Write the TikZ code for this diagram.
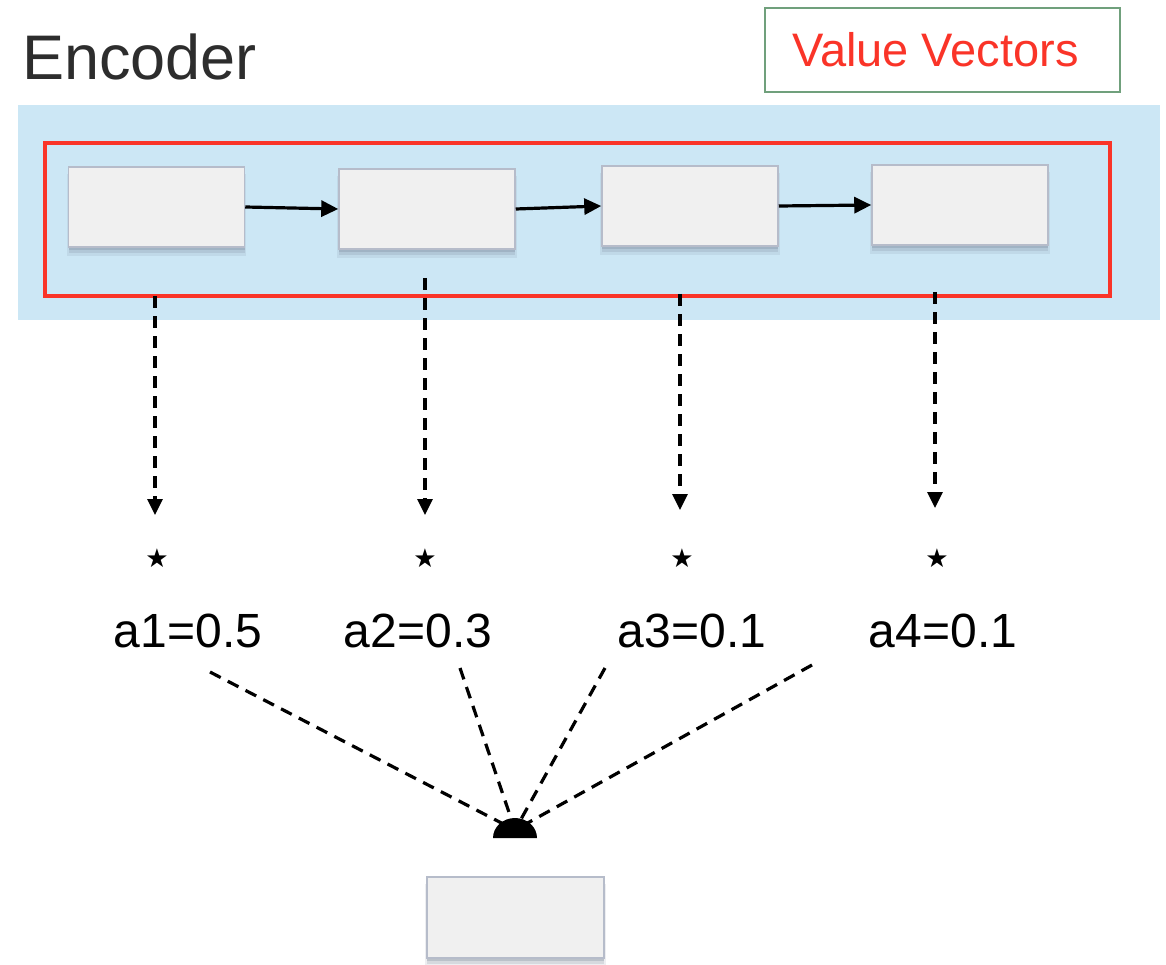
\documentclass[tikz,border=0pt]{standalone}
\usepackage{fontspec}
\setmainfont{Liberation Sans}
\newfontfamily\symfont{DejaVu Sans}
\usetikzlibrary{arrows.meta,shadows}
\definecolor{bgblue}{RGB}{204,231,245}
\definecolor{redline}{RGB}{250,52,40}
\definecolor{boxfill}{RGB}{240,240,240}
\definecolor{boxline}{RGB}{182,188,202}
\definecolor{vvgreen}{RGB}{112,160,124}
\definecolor{enctext}{RGB}{45,45,45}
\definecolor{shadowc}{RGB}{110,122,140}
\begin{document}
\begin{tikzpicture}[x=1pt,y=-1pt,
  cell/.style={draw=boxline,line width=1.5pt,fill=boxfill,minimum width=176pt,minimum height=80pt,inner sep=0pt,
    drop shadow={shadow xshift=0pt,shadow yshift=-8pt,opacity=0.12,fill=shadowc,shadow scale=1.02},
    drop shadow={shadow xshift=0pt,shadow yshift=-6pt,opacity=0.18,fill=shadowc},
    drop shadow={shadow xshift=0pt,shadow yshift=-3pt,opacity=0.25,fill=shadowc}},
  flow/.style={line width=3.2pt,-{Triangle[length=17pt,width=16pt]}},
  dflow/.style={line width=3.2pt,dash pattern=on 12pt off 8pt,-{Triangle[length=16pt,width=15pt]}},
  dline/.style={line width=3.2pt,dash pattern=on 12pt off 8pt},
  weight/.style={anchor=base,inner sep=0pt,font=\fontsize{48}{54}\selectfont},
  staro/.style={inner sep=0pt,font=\symfont\fontsize{26}{28}\selectfont}
]
\useasboundingbox (0,0) rectangle (1166,965);
\fill[white] (0,0) rectangle (1166,965);
% background
\fill[bgblue] (18,105) rectangle (1160,320);
% title
\node[anchor=base west,inner sep=0pt,text=enctext,font=\fontsize{63}{70}\selectfont] (title) at (22,80) {Encoder};
% value vectors legend
\node[draw=vvgreen,line width=1.5pt,fill=white,minimum width=355pt,minimum height=84pt,inner sep=0pt,
  text=redline,font=\fontsize{47}{52}\selectfont] (vv) at (942.5,50) {\hspace*{-14pt}Value Vectors};
% red frame
\node[draw=redline,line width=3.2pt,minimum width=1065pt,minimum height=153pt,inner sep=0pt] (enc) at (577.5,219.5) {};
% cells
\node[cell] (b1) at (156.5,207) {};
\node[cell] (b2) at (427,209) {};
\node[cell] (b3) at (690,206) {};
\node[cell] (b4) at (960,205) {};
\draw[flow] (b1.east) -- (b2.west);
\draw[flow] (b2.east) -- (b3.west);
\draw[flow] (b3.east) -- (b4.west);
% stars
\node[staro] (s1) at (157,558) {★};
\node[staro] (s2) at (425,558) {★};
\node[staro] (s3) at (682,558) {★};
\node[staro] (s4) at (937,558) {★};
% dashed arrows down
\coordinate (d1) at (155,296);
\coordinate (d2) at (425,278);
\coordinate (d3) at (680,294);
\coordinate (d4) at (935,292);
\coordinate (t1) at (155,515);
\coordinate (t2) at (425,515);
\coordinate (t3) at (680,510);
\coordinate (t4) at (935,508);
\draw[dflow] (d1) -- (t1);
\draw[dflow] (d2) -- (t2);
\draw[dflow] (d3) -- (t3);
\draw[dflow] (d4) -- (t4);
% weights
\node[weight] (l1) at (188,647) {a1=0.5};
\node[weight] (l2) at (418,647) {a2=0.3};
\node[weight] (l3) at (692,647) {a3=0.1};
\node[weight] (l4) at (943,647) {a4=0.1};
% converging lines
\coordinate (hub) at (515,830);
\coordinate (c1) at (210,672);
\coordinate (c2) at (460,668);
\coordinate (c3) at (605,668);
\coordinate (c4) at (812,665);
\draw[dline] (c1) -- (hub);
\draw[dline] (c2) -- (hub);
\draw[dline] (c3) -- (hub);
\draw[dline] (c4) -- (hub);
\fill (493,838) arc[start angle=180,end angle=0,x radius=22pt,y radius=20pt] -- cycle;
% output cell
\node[cell,minimum width=177pt,minimum height=81pt] (out) at (515.5,917.5) {};
\end{tikzpicture}
\end{document}
